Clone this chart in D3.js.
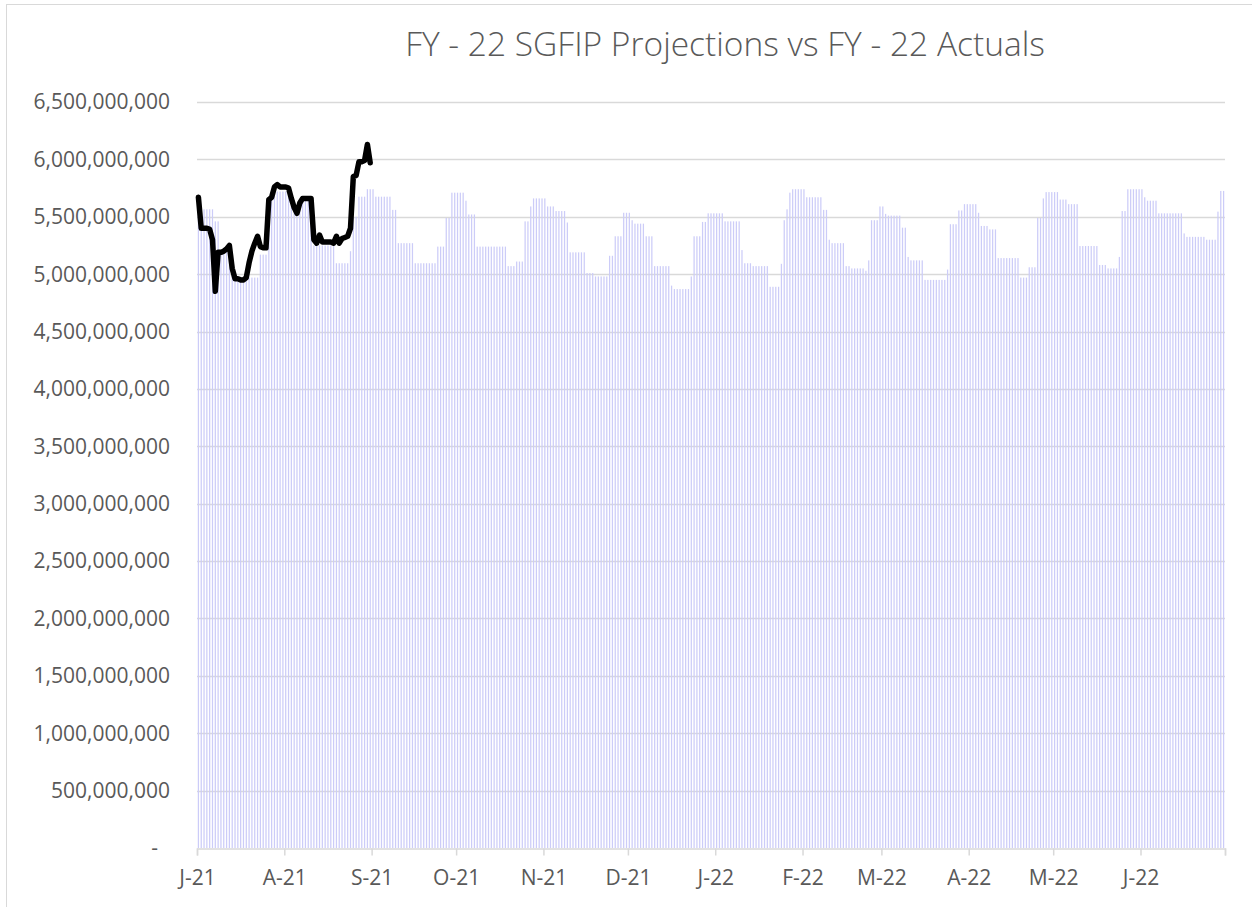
<!DOCTYPE html>
<html>
<head>
<meta charset="utf-8">
<script src="https://cdn.jsdelivr.net/npm/d3@7"></script>
<style>
  body { margin: 0; background: #fff; }
  svg text { font-family: "Open Sans", "Liberation Sans", sans-serif; fill: #595959; }
</style>
</head>
<body>
<div id="chart"></div>
<script>
// FY-22 projection steps: each value holds from its start date until the next start date
const projStarts = [
  '2021-07-01','2021-07-07','2021-07-09','2021-07-14','2021-07-23','2021-07-26','2021-07-28',
  '2021-08-03','2021-08-07','2021-08-11','2021-08-19','2021-08-24','2021-08-25','2021-08-27','2021-08-30',
  '2021-09-02','2021-09-08','2021-09-10','2021-09-16','2021-09-24','2021-09-27','2021-09-29',
  '2021-10-04','2021-10-05','2021-10-08','2021-10-19','2021-10-22','2021-10-25','2021-10-27','2021-10-28',
  '2021-11-02','2021-11-05','2021-11-09','2021-11-10','2021-11-16','2021-11-19','2021-11-24','2021-11-26','2021-11-29',
  '2021-12-02','2021-12-03','2021-12-07','2021-12-10','2021-12-16','2021-12-17','2021-12-23','2021-12-24','2021-12-27','2021-12-29',
  '2022-01-04','2022-01-10','2022-01-11','2022-01-14','2022-01-20','2022-01-24','2022-01-25','2022-01-26','2022-01-27','2022-01-28',
  '2022-02-02','2022-02-08','2022-02-10','2022-02-11','2022-02-16','2022-02-18','2022-02-23','2022-02-24','2022-02-25','2022-02-28',
  '2022-03-02','2022-03-03','2022-03-08','2022-03-10','2022-03-11','2022-03-16','2022-03-24','2022-03-25','2022-03-28','2022-03-30',
  '2022-04-04','2022-04-05','2022-04-08','2022-04-11','2022-04-19','2022-04-22','2022-04-25','2022-04-27','2022-04-28',
  '2022-05-03','2022-05-06','2022-05-10','2022-05-17','2022-05-20','2022-05-24','2022-05-25','2022-05-27',
  '2022-06-02','2022-06-03','2022-06-07','2022-06-16','2022-06-17','2022-06-24','2022-06-28','2022-06-29'
];
const projValues = [
  5565,5460,5200,4970,5170,5660,5720,
  5600,5650,5250,5095,5200,5500,5675,5740,
  5675,5560,5270,5095,5240,5490,5710,
  5640,5520,5240,5070,5110,5460,5590,5660,
  5590,5550,5450,5190,5010,4980,5160,5330,5535,
  5470,5440,5330,5070,4900,4870,4980,5330,5455,5530,
  5460,5210,5095,5070,4890,5090,5470,5565,5710,5740,
  5670,5560,5300,5270,5070,5050,5030,5120,5470,5590,
  5525,5510,5405,5150,5120,4950,5040,5435,5555,5610,
  5535,5420,5390,5140,4970,5060,5490,5660,5715,
  5650,5610,5245,5080,5050,5150,5550,5740,
  5670,5640,5530,5355,5325,5300,5545,5725
].map(v => v * 1e6);
const projEnd = '2022-07-01';

// FY-22 actuals, one value per day from the start date
const actualStart = '2021-07-01';
const actualValues = [
  5670,5400,5400,5400,5390,5300,4850,5190,5190,5200,5220,5250,5050,4960,4960,4950,
  4950,4970,5100,5200,5270,5330,5240,5230,5230,5650,5670,5760,5780,5760,5760,5760,
  5750,5660,5580,5530,5620,5660,5660,5660,5660,5300,5270,5340,5280,5280,5280,5280,
  5270,5330,5270,5310,5320,5330,5400,5850,5860,5980,5980,5990,6130,5970
].map(v => v * 1e6);

const yTicks = d3.range(0, 6500000001, 500000000);
const monthLabels = ['J-21','A-21','S-21','O-21','N-21','D-21','J-22','F-22','M-22','A-22','M-22','J-22'];
const title = 'FY - 22 SGFIP Projections vs FY - 22 Actuals';

const width = 1252, height = 907;
const margin = { top: 102, right: 27, bottom: 59, left: 197 };
const parse = d3.timeParse('%Y-%m-%d');

// expand step table into daily bars
let bars = [];
projStarts.forEach((s, i) => {
  const end = parse(i + 1 < projStarts.length ? projStarts[i + 1] : projEnd);
  d3.timeDay.range(parse(s), end).forEach(day => bars.push({ date: day, value: projValues[i] }));
});
const actuals = actualValues.map((v, i) => ({ date: d3.timeDay.offset(parse(actualStart), i), value: v }));

const svg = d3.select('#chart').append('svg')
  .attr('width', width)
  .attr('height', height);

// chart frame (only top and left edges fall inside the picture)
svg.append('rect')
  .attr('x', 6.5).attr('y', 4.5)
  .attr('width', width + 20).attr('height', height + 20)
  .attr('fill', 'none')
  .attr('stroke', '#d9d9d9');

const x = d3.scaleTime()
  .domain([parse('2021-07-01'), parse(projEnd)])
  .range([margin.left, width - margin.right]);
const y = d3.scaleLinear()
  .domain([0, 6500000000])
  .range([height - margin.bottom, margin.top]);

// gridlines
svg.append('g')
  .selectAll('line')
  .data(yTicks.filter(d => d > 0))
  .join('line')
    .attr('x1', margin.left).attr('x2', width - margin.right)
    .attr('y1', d => Math.round(y(d)) + 0.5).attr('y2', d => Math.round(y(d)) + 0.5)
    .attr('stroke', '#d9d9d9')
    .attr('stroke-width', 1.3);

// projection bars
const dayW = x(parse('2021-07-02')) - x(parse('2021-07-01'));
svg.append('g')
  .selectAll('rect')
  .data(bars)
  .join('rect')
    .attr('x', d => x(d.date) + dayW * 0.28)
    .attr('y', d => y(d.value))
    .attr('width', dayW * 0.44)
    .attr('height', d => y(0) - y(d.value))
    .attr('fill', '#ccccf8');

// y axis labels
const fmt = d3.format(',');
svg.append('g')
  .selectAll('text')
  .data(yTicks)
  .join('text')
    .attr('x', d => d === 0 ? 158 : 170)
    .attr('y', d => y(d))
    .attr('dy', '0.35em')
    .attr('text-anchor', 'end')
    .style('font-size', '21px')
    .text(d => d === 0 ? '-' : fmt(d));

// x axis
const xAxis = d3.axisBottom(x)
  .tickValues(d3.timeMonth.range(parse('2021-07-01'), d3.timeDay.offset(parse(projEnd), 1)))
  .tickSize(7)
  .tickFormat((d, i) => monthLabels[i] || '');
const gx = svg.append('g')
  .attr('transform', `translate(0,${Math.round(y(0)) + 0.5})`)
  .call(xAxis);
gx.select('.domain').attr('stroke', '#d9d9d9').attr('stroke-width', 1.5);
gx.selectAll('.tick line').attr('stroke', '#d9d9d9').attr('stroke-width', 1.5);
gx.selectAll('.tick text')
  .attr('fill', '#595959')
  .attr('y', 22)
  .style('font-size', '21px')
  .style('font-family', '"Open Sans", "Liberation Sans", sans-serif');

// actuals line
svg.append('path')
  .datum(actuals)
  .attr('fill', 'none')
  .attr('stroke', '#000')
  .attr('stroke-width', 5.5)
  .attr('stroke-linejoin', 'round')
  .attr('stroke-linecap', 'round')
  .attr('d', d3.line().x(d => x(d.date) + dayW * 0.5).y(d => y(d.value)));

// title
svg.append('text')
  .attr('x', 725)
  .attr('y', 56)
  .attr('text-anchor', 'middle')
  .style('font-size', '33.5px')
  .style('font-weight', 300)
  .text(title);
</script>
</body>
</html>
